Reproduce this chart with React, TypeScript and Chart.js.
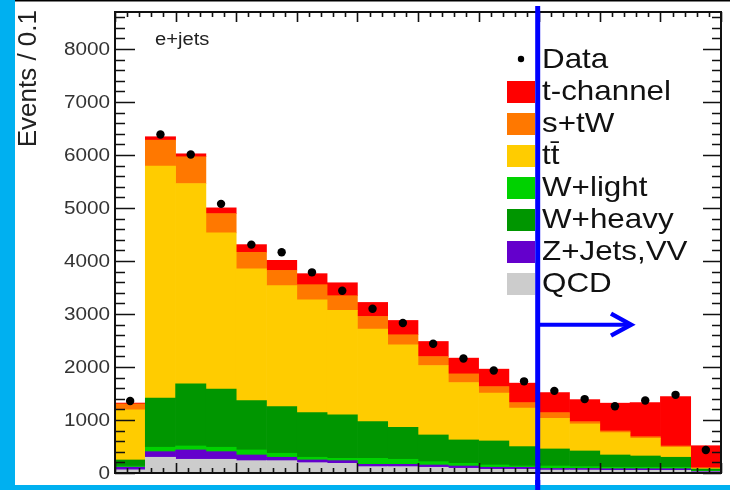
import React, { useEffect, useRef } from "react";
import { Chart, registerables } from "chart.js";

Chart.register(...registerables);

// 20 bins of width 0.1
const binLabels = ["0.0","0.1","0.2","0.3","0.4","0.5","0.6","0.7","0.8","0.9","1.0","1.1","1.2","1.3","1.4","1.5","1.6","1.7","1.8","1.9"];

const qcd   = [60, 297, 259, 259, 233, 233, 195, 183, 120, 120, 108, 89, 70, 70, 55, 55, 50, 50, 50, 20];
const zjets = [50, 106, 176, 144, 107, 64, 51, 50, 44, 44, 43, 43, 38, 38, 30, 30, 30, 30, 30, 10];
const wlight = [20, 83, 75, 83, 95, 75, 51, 44, 113, 95, 63, 51, 43, 24, 47, 35, 28, 28, 28, 10];
const wheavy = [116, 926, 1172, 1096, 932, 881, 843, 819, 693, 604, 504, 441, 454, 366, 322, 296, 232, 213, 189, 35];
const ttbar = [945, 4378, 3781, 2949, 2484, 2282, 2130, 1972, 1746, 1557, 1311, 1083, 901, 725, 579, 510, 422, 335, 189, 10];
const stw   = [113, 492, 505, 365, 314, 289, 284, 278, 239, 189, 169, 164, 125, 106, 107, 44, 32, 30, 24, 15];
const tchan = [16, 64, 56, 108, 145, 189, 208, 244, 264, 270, 284, 297, 329, 367, 378, 415, 524, 643, 933, 415];
const dataPts = [1360, 6389, 6011, 5079, 4310, 4165, 3787, 3440, 3100, 2830, 2439, 2161, 1934, 1730, 1550, 1395, 1260, 1367, 1475, 435];

const yTickValues = [0, 1000, 2000, 3000, 4000, 5000, 6000, 7000, 8000];
const yMax = 8700;
const cutBin = 14; // selection cut at bin edge 1.4

const legendEntries = [
  { label: "Data", color: null },
  { label: "t-channel", color: "#ff0000" },
  { label: "s+tW", color: "#ff7800" },
  { label: "tt\u0304", color: "#ffcc00" },
  { label: "W+light", color: "#00d200" },
  { label: "W+heavy", color: "#009600" },
  { label: "Z+Jets,VV", color: "#6400cc" },
  { label: "QCD", color: "#cccccc" },
];

const FONT = "'Liberation Sans', Arial, sans-serif";

function drawStretchedText(ctx: CanvasRenderingContext2D, text: string, x: number, y: number, font: string, align: CanvasTextAlign, sx: number, color: string) {
  ctx.save();
  ctx.translate(x, y);
  ctx.scale(sx, 1);
  ctx.font = font;
  ctx.textAlign = align;
  ctx.textBaseline = "middle";
  ctx.fillStyle = color;
  ctx.fillText(text, 0, 0);
  ctx.restore();
}

const framePlugin = {
  id: "rootFrame",
  beforeDraw(chart: any) {
    const ctx = chart.ctx as CanvasRenderingContext2D;
    ctx.save();
    ctx.fillStyle = "#ffffff";
    ctx.fillRect(0, 0, chart.width, chart.height);
    ctx.restore();
  },
  beforeDatasetDraw(chart: any, args: any) {
    if (args.meta.type !== "line") return;
    const ctx = chart.ctx as CanvasRenderingContext2D;
    const { left, right, top, bottom } = chart.chartArea;
    const ys = chart.scales.y;
    const xs = chart.scales.x;
    ctx.save();
    ctx.strokeStyle = "#111";
    ctx.lineWidth = 1.6;
    // y ticks (left and right, inward)
    for (let v = 0; v <= yMax; v += 200) {
      const y = Math.round(ys.getPixelForValue(v)) + 0.5;
      const len = v % 1000 === 0 ? 20 : 10;
      ctx.beginPath();
      ctx.moveTo(left, y);
      ctx.lineTo(left + len, y);
      ctx.moveTo(right, y);
      ctx.lineTo(right - len * 0.9, y);
      ctx.stroke();
    }
    // x ticks (top and bottom, inward)
    const binW = xs.getPixelForValue(1) - xs.getPixelForValue(0);
    const edge0 = xs.getPixelForValue(0) - binW / 2;
    for (let k = 0; k <= 50; k++) {
      const x = Math.round(edge0 + k * 0.4 * binW) + 0.5;
      const len = k % 5 === 0 ? 10 : 5;
      ctx.beginPath();
      ctx.moveTo(x, top);
      ctx.lineTo(x, top + len);
      ctx.moveTo(x, bottom);
      ctx.lineTo(x, bottom - len);
      ctx.stroke();
    }
    ctx.lineWidth = 2;
    ctx.strokeRect(left, top, right - left, bottom - top);
    ctx.restore();
  },
  afterDraw(chart: any) {
    const ctx = chart.ctx as CanvasRenderingContext2D;
    const { left, top } = chart.chartArea;
    const ys = chart.scales.y;
    const xs = chart.scales.x;

    // y tick labels
    for (const v of yTickValues) {
      const y = ys.getPixelForValue(v);
      drawStretchedText(ctx, String(v), left - 5, y + 1, `18px ${FONT}`, "right", 1.15, "#333");
    }

    // y axis title
    ctx.save();
    ctx.translate(36, 10);
    ctx.rotate(-Math.PI / 2);
    ctx.font = `26px ${FONT}`;
    ctx.textAlign = "right";
    ctx.textBaseline = "alphabetic";
    ctx.fillStyle = "#222";
    ctx.fillText("Events / 0.1", 0, 0);
    ctx.restore();

    // channel label
    drawStretchedText(ctx, "e+jets", 155, top + 28, `18px ${FONT}`, "left", 1.12, "#222");

    // legend
    legendEntries.forEach((e, i) => {
      const cy = 60 + i * 32;
      if (e.color === null) {
        ctx.save();
        ctx.fillStyle = "#000";
        ctx.beginPath();
        ctx.arc(521, cy - 1, 3.2, 0, Math.PI * 2);
        ctx.fill();
        ctx.restore();
      } else {
        ctx.save();
        ctx.fillStyle = e.color;
        ctx.fillRect(507, cy - 11, 28, 22);
        ctx.restore();
      }
      drawStretchedText(ctx, e.label, 542, cy, `28px ${FONT}`, "left", 1.12, "#111");
    });

    // selection cut line and arrow
    const binW = xs.getPixelForValue(1) - xs.getPixelForValue(0);
    const cutX = xs.getPixelForValue(cutBin) - binW / 2 - 1.5;
    ctx.save();
    ctx.strokeStyle = "#0000ff";
    ctx.lineWidth = 5;
    ctx.beginPath();
    ctx.moveTo(cutX, 6);
    ctx.lineTo(cutX, 490);
    ctx.stroke();
    const ay = ys.getPixelForValue(2800);
    ctx.lineWidth = 4;
    ctx.beginPath();
    ctx.moveTo(cutX, ay);
    ctx.lineTo(631, ay);
    ctx.stroke();
    ctx.lineWidth = 4.5;
    ctx.beginPath();
    ctx.moveTo(611, ay - 11);
    ctx.lineTo(631, ay);
    ctx.lineTo(611, ay + 11);
    ctx.stroke();
    ctx.restore();

    // surrounding slide decorations
    ctx.save();
    ctx.fillStyle = "#00b0f0";
    ctx.fillRect(0, 0, 15, chart.height);
    ctx.fillRect(0, 485, chart.width, 5);
    ctx.fillStyle = "#000";
    ctx.fillRect(15, 0, chart.width - 15, 1.5);
    ctx.restore();
    // redraw the cut line over the bottom bar
    ctx.save();
    ctx.strokeStyle = "#0000ff";
    ctx.lineWidth = 5;
    ctx.beginPath();
    ctx.moveTo(cutX, 480);
    ctx.lineTo(cutX, 490);
    ctx.stroke();
    ctx.restore();
  },
};

export default function App() {
  const ref = useRef<HTMLCanvasElement | null>(null);
  useEffect(() => {
    if (!ref.current) return;
    const mk = (label: string, data: number[], color: string) => ({
      type: "bar" as const,
      label,
      data,
      backgroundColor: color,
      borderWidth: 0,
      barPercentage: 1,
      categoryPercentage: 1,
      stack: "mc",
      order: 1,
    });
    const chart = new Chart(ref.current, {
      type: "bar",
      data: {
        labels: binLabels,
        datasets: [
          mk("QCD", qcd, "#cccccc"),
          mk("Z+Jets,VV", zjets, "#6400cc"),
          mk("W+light", wlight, "#00d200"),
          mk("W+heavy", wheavy, "#009600"),
          mk("tt\u0304", ttbar, "#ffcc00"),
          mk("s+tW", stw, "#ff7800"),
          mk("t-channel", tchan, "#ff0000"),
          {
            type: "line" as const,
            label: "Data",
            data: dataPts,
            showLine: false,
            pointRadius: 4.2,
            pointBackgroundColor: "#000",
            pointBorderWidth: 0,
            borderColor: "#000",
            stack: "data",
            order: 0,
          } as any,
        ],
      },
      options: {
        responsive: false,
        animation: false,
        devicePixelRatio: 1,
        layout: { padding: { left: 115, right: 9, top: 12, bottom: 17 } },
        plugins: { legend: { display: false }, tooltip: { enabled: false } },
        scales: {
          x: { type: "category", display: false, stacked: true, offset: true },
          y: { type: "linear", display: false, stacked: true, min: 0, max: yMax },
        },
      },
      plugins: [framePlugin],
    });
    return () => chart.destroy();
  }, []);
  return (
    <div style={{ position: "absolute", left: 0, top: 0, width: 730, height: 490 }}>
      <canvas ref={ref} width={730} height={490} />
    </div>
  );
}
